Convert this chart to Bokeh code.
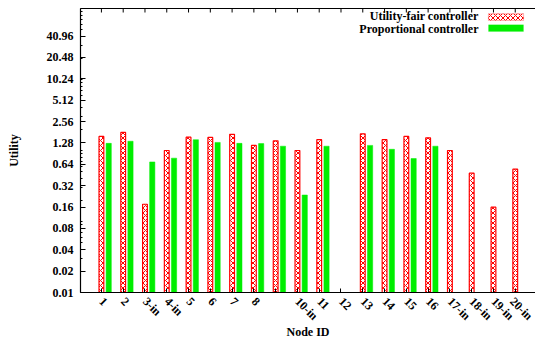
import math
from bokeh.plotting import figure
from bokeh.models import Range1d, FixedTicker, Label, BoxAnnotation, LinearAxis
from bokeh.embed import file_html
from bokeh.resources import INLINE

# ---- data ----
positions = list(range(1, 21))
node_ids = ["1", "2", "3-in", "4-in", "5", "6", "7", "8", "9", "10-in",
            "11", "12", "13", "14", "15", "16", "17-in", "18-in", "19-in", "20-in"]
tick_labels = ["1", "2", "3-in", "4-in", "5", "6", "7", "8", "", "10-in",
               "11", "12", "13", "14", "15", "16", "17-in", "18-in", "19-in", "20-in"]
utility_fair = [1.58, 1.80, 0.175, 1.0, 1.54, 1.53, 1.69, 1.18, 1.37, 1.0,
                1.42, None, 1.72, 1.42, 1.58, 1.51, 1.0, 0.48, 0.159, 0.545]
proportional = [1.26, 1.35, 0.69, 0.78, 1.42, 1.30, 1.26, 1.25, 1.15, 0.236,
                1.15, None, 1.18, 1.04, 0.77, 1.15, None, None, None, None]
y_ticks = [0.01, 0.02, 0.04, 0.08, 0.16, 0.32, 0.64, 1.28, 2.56, 5.12, 10.24, 20.48, 40.96]
y_tick_labels = ["0.01", "0.02", "0.04", "0.08", "0.16", "0.32", "0.64", "1.28",
                 "2.56", "5.12", "10.24", "20.48", "40.96"]
y_minor = [m * 10.0 ** k for k in range(-2, 2) for m in range(1, 10)] + [100.0]
series_names = ["Utility-fair controller", "Proportional controller"]
x_title = "Node ID"
y_title = "Utility"

FONT = "Liberation Serif"
RED = "#ff0000"
GREEN = "#00ee00"
Y_MIN, Y_MAX = 0.01, 100.0

p = figure(width=535, height=341, output_backend="svg", toolbar_location=None,
           x_range=Range1d(0.04, 20.93), y_range=Range1d(Y_MIN, Y_MAX),
           y_axis_type="log",
           min_border_left=80, min_border_right=0,
           min_border_top=8, min_border_bottom=48)
p.outline_line_color = None
p.xgrid.visible = False
p.ygrid.visible = False
p.background_fill_color = "white"
p.border_fill_color = "white"

# bars
rx = [x for x, v in zip(positions, utility_fair) if v is not None]
rv = [v for v in utility_fair if v is not None]
gx = [x + 0.335 for x, v in zip(positions, proportional) if v is not None]
gv = [v for v in proportional if v is not None]

p.vbar(x=rx, top=rv, bottom=Y_MIN, width=0.22, fill_color="white",
       line_color=RED, line_width=1.2, hatch_pattern="x", hatch_color=RED,
       hatch_scale=5, hatch_weight=1.0)
p.vbar(x=gx, top=gv, bottom=Y_MIN, width=0.24, fill_color=GREEN,
       line_color=GREEN, line_width=0.5)

# x axis (bottom)
xa = p.xaxis[0]
xa.ticker = FixedTicker(ticks=positions, minor_ticks=[])
xa.major_label_overrides = {x: lab for x, lab in zip(positions, tick_labels)}
xa.major_label_orientation = -math.pi / 4
xa.major_tick_in = 4
xa.major_tick_out = 0
xa.minor_tick_in = 0
xa.minor_tick_out = 0
xa.major_label_standoff = 7
xa.axis_label = x_title
xa.axis_label_standoff = -6

# y axis
ya = p.yaxis[0]
ya.ticker = FixedTicker(ticks=y_ticks, minor_ticks=y_minor)
ya.major_label_overrides = {v: s for v, s in zip(y_ticks, y_tick_labels)}
ya.major_tick_in = 5
ya.major_tick_out = 0
ya.minor_tick_in = 2
ya.minor_tick_out = 0
ya.axis_label = y_title
ya.axis_label_standoff = 23
ya.major_label_standoff = 7

for ax in (xa, ya):
    ax.axis_line_color = "black"
    ax.axis_line_width = 1.2
    ax.major_tick_line_color = "black"
    ax.minor_tick_line_color = "black"
    ax.major_label_text_font = FONT
    ax.major_label_text_font_style = "bold"
    ax.major_label_text_font_size = "12px"
    ax.major_label_text_color = "black"
    ax.axis_label_text_font = FONT
    ax.axis_label_text_font_style = "bold"
    ax.axis_label_text_font_size = "12px"
    ax.axis_label_text_color = "black"

# top border (no labels) with inward category ticks
top = LinearAxis(ticker=FixedTicker(ticks=[], minor_ticks=[]), major_label_standoff=0,
                 major_tick_in=0, major_tick_out=0, minor_tick_in=0, minor_tick_out=0,
                 axis_line_color="black", axis_line_width=1.2)
p.add_layout(top, "above")
p.ray(x=positions, y=Y_MAX, length=4, length_units="screen", angle=-math.pi / 2,
      line_color="black", line_width=1)

# legend (labels on the left, swatches on the right)
for i, name in enumerate(series_names):
    p.add_layout(Label(x=398, y=276.5 - 12.5 * i, x_units="screen", y_units="screen",
                       text=name, text_align="right", text_baseline="middle",
                       text_font=FONT, text_font_style="bold", text_font_size="12px",
                       text_color="black"))
p.add_layout(BoxAnnotation(left=408, right=443, top=278.7, bottom=272,
                           left_units="screen", right_units="screen",
                           top_units="screen", bottom_units="screen",
                           fill_color="white", fill_alpha=1, line_color=RED, line_width=1.2,
                           hatch_pattern="x", hatch_color=RED, hatch_scale=5, hatch_weight=1.0))
p.add_layout(BoxAnnotation(left=408, right=443, top=267.7, bottom=261,
                           left_units="screen", right_units="screen",
                           top_units="screen", bottom_units="screen",
                           fill_color=GREEN, fill_alpha=1, line_color=GREEN, line_width=0.5))

open("out.html", "w").write(file_html(p, INLINE))
